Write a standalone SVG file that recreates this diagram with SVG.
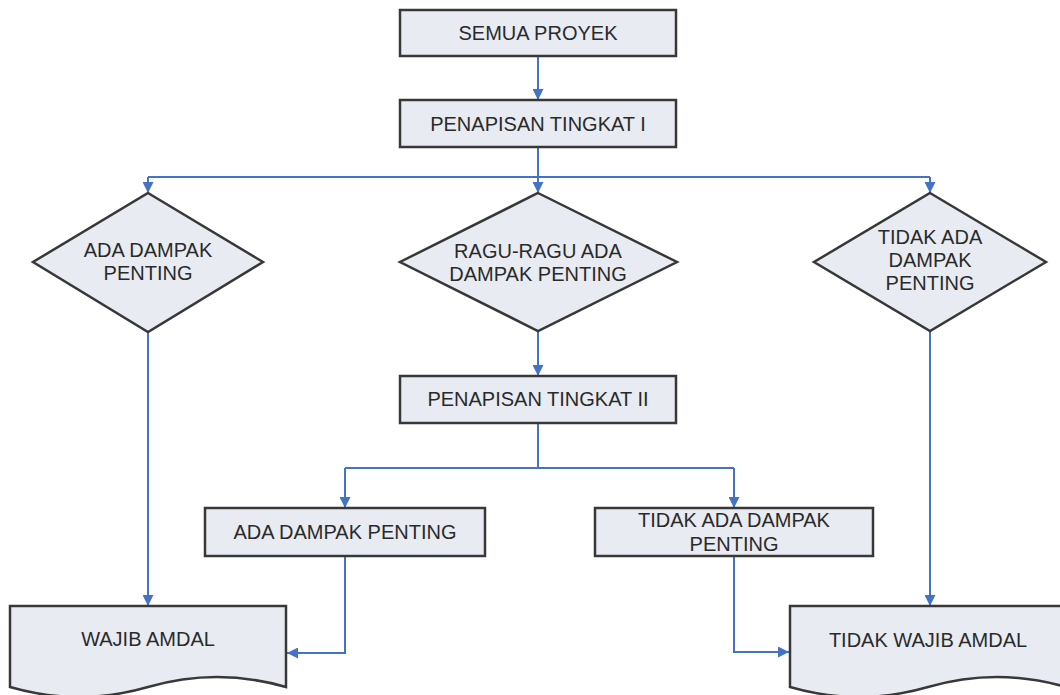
<svg xmlns="http://www.w3.org/2000/svg" width="1060" height="695" viewBox="0 0 1060 695">
<defs>
<marker id="arr" viewBox="0 0 10 10" refX="10" refY="5" markerWidth="11" markerHeight="11" markerUnits="userSpaceOnUse" orient="auto">
<path d="M0,0 L10,5 L0,10 z" fill="#4472c4"/>
</marker>
<style>
.shape{fill:#e8ecf2;stroke:#383838;stroke-width:2.5;stroke-linejoin:miter}
.lbl{font-family:"Liberation Sans",Arial,sans-serif;font-size:20px;fill:#2a2a2a;text-anchor:middle}
.con{fill:none;stroke:#4472c4;stroke-width:2}
.arr{marker-end:url(#arr)}
</style>
</defs>
<rect width="1060" height="695" fill="#ffffff"/>
<g id="connectors">
<path class="con arr" d="M538,56 V100"/>
<path class="con" d="M538,147 V177 M148,177 H930"/>
<path class="con arr" d="M148,177 V193"/>
<path class="con arr" d="M538,177 V193"/>
<path class="con arr" d="M930,177 V193"/>
<path class="con arr" d="M148,332 V606"/>
<path class="con arr" d="M538,331 V376"/>
<path class="con" d="M538,423 V468 M345,468 H734"/>
<path class="con arr" d="M345,468 V508"/>
<path class="con arr" d="M734,468 V508"/>
<path class="con arr" d="M345,556 V653 H287"/>
<path class="con arr" d="M734,556 V652 H789"/>
<path class="con arr" d="M930,331 V606"/>
</g>
<g id="semua-proyek">
<rect class="shape" x="400" y="10" width="276" height="46"/>
<text class="lbl" x="538" y="40">SEMUA PROYEK</text>
</g>
<g id="penapisan-1">
<rect class="shape" x="400" y="100" width="276" height="47"/>
<text class="lbl" x="538" y="131">PENAPISAN TINGKAT I</text>
</g>
<g id="ada-dampak-diamond">
<polygon class="shape" points="148,193 263,262 148,332 33,262"/>
<text class="lbl" x="148" y="257">ADA DAMPAK</text>
<text class="lbl" x="148" y="280">PENTING</text>
</g>
<g id="ragu-ragu-diamond">
<polygon class="shape" points="538,193 677,262 538,331 400,262"/>
<text class="lbl" x="538" y="258">RAGU-RAGU ADA</text>
<text class="lbl" x="538" y="281">DAMPAK PENTING</text>
</g>
<g id="tidak-ada-diamond">
<polygon class="shape" points="930,193 1046,262 930,331 814,262"/>
<text class="lbl" x="930" y="244">TIDAK ADA</text>
<text class="lbl" x="930" y="267">DAMPAK</text>
<text class="lbl" x="930" y="290">PENTING</text>
</g>
<g id="penapisan-2">
<rect class="shape" x="400" y="376" width="276" height="47"/>
<text class="lbl" x="538" y="406">PENAPISAN TINGKAT II</text>
</g>
<g id="ada-dampak-box">
<rect class="shape" x="205" y="508" width="280" height="48"/>
<text class="lbl" x="345" y="539">ADA DAMPAK PENTING</text>
</g>
<g id="tidak-ada-box">
<rect class="shape" x="595" y="508" width="278" height="48"/>
<text class="lbl" x="734" y="527">TIDAK ADA DAMPAK</text>
<text class="lbl" x="734" y="551">PENTING</text>
</g>
<g id="wajib-amdal">
<path class="shape" d="M10,606 H286 V687 Q217,667 148,687 T10,687 Z"/>
<text class="lbl" x="148" y="646">WAJIB AMDAL</text>
</g>
<g id="tidak-wajib-amdal">
<path class="shape" d="M790,606 H1066 V687 Q997,667 928,687 T790,687 Z"/>
<text class="lbl" x="928" y="647">TIDAK WAJIB AMDAL</text>
</g>
</svg>
